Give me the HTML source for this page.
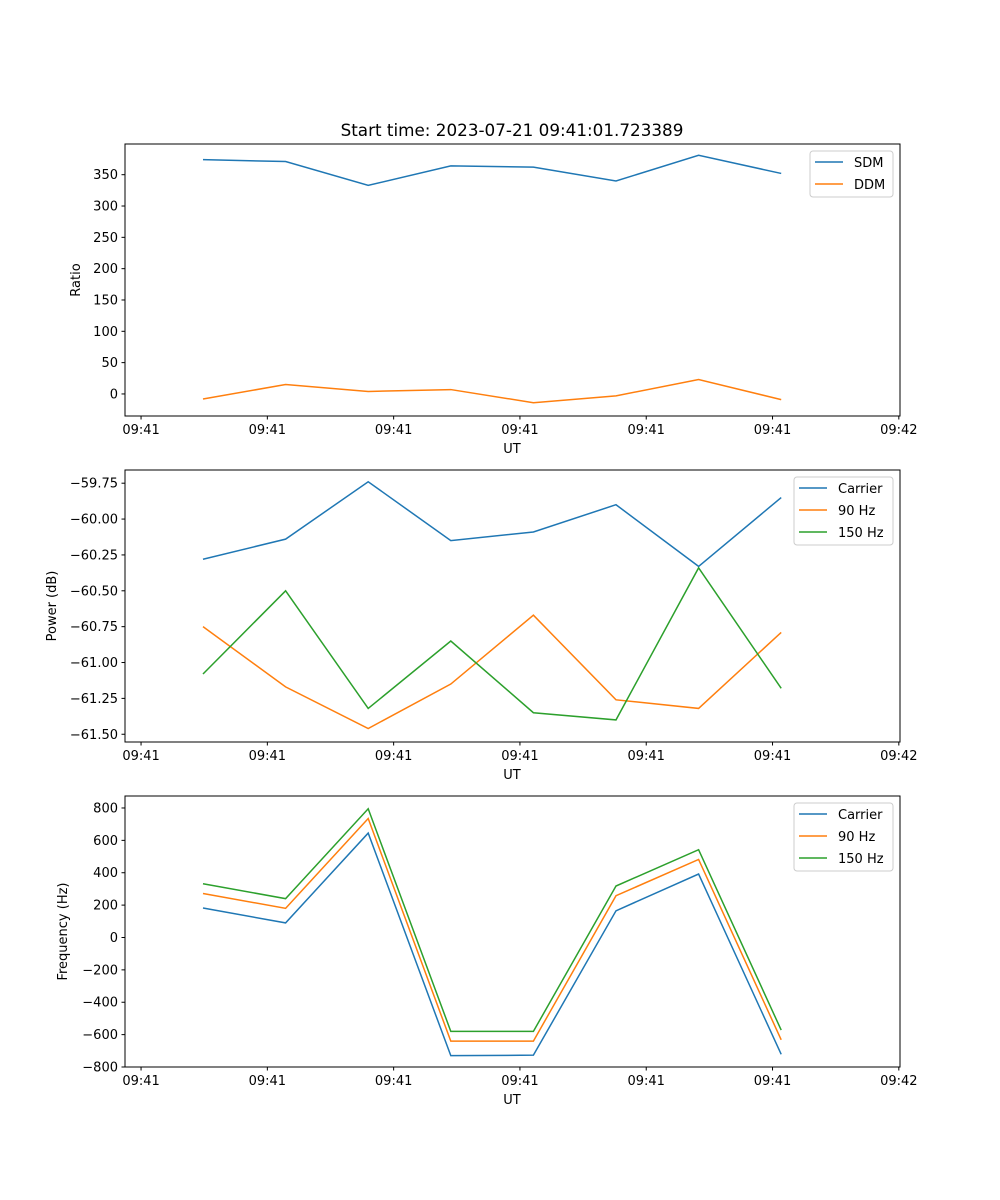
<!DOCTYPE html>
<html><head><meta charset="utf-8"><style>
body{margin:0;background:#fff}
svg{display:block;font-family:"DejaVu Sans","Liberation Sans",sans-serif}
</style></head><body>
<svg id="fig" width="1000" height="1200"></svg>
<script>
const times=[0,1,2,3,4,5,6,7];
const tickTimes=[-0.75,0.779,2.308,3.837,5.366,6.895,8.424];
const tickLabels=["09:41","09:41","09:41","09:41","09:41","09:41","09:42"];
const sdm=[374,371,333,364,362,340,381,352];
const ddm=[-8,15,4,7,-14,-3,23,-9];
const pCarrier=[-60.28,-60.14,-59.74,-60.15,-60.09,-59.90,-60.33,-59.85];
const p90=[-60.75,-61.17,-61.46,-61.15,-60.67,-61.26,-61.32,-60.79];
const p150=[-61.08,-60.50,-61.32,-60.85,-61.35,-61.40,-60.34,-61.18];
const fCarrier=[182,90,645,-730,-727,165,392,-722];
const f90=[272,180,735,-640,-640,258,482,-632];
const f150=[332,240,795,-580,-580,318,542,-572];
const ratioTicks=[0,50,100,150,200,250,300,350];
const powerTicks=[-59.75,-60.0,-60.25,-60.5,-60.75,-61.0,-61.25,-61.5];
const freqTicks=[800,600,400,200,0,-200,-400,-600,-800];
const C={b:"#1f77b4",o:"#ff7f0e",g:"#2ca02c"};
const NS="http://www.w3.org/2000/svg";
const svg=document.getElementById('fig');
function mk(tag,attrs,parent){const e=document.createElementNS(NS,tag);for(const k in attrs)e.setAttribute(k,attrs[k]);(parent||svg).appendChild(e);return e;}
const xs=t=>203+t*82.6;
function panel(name,top,bot,yMin,yMax,yTicks,fmt,ylabel,ylabelX,series,legend){
  const g=mk('g',{});
  
  
  const ys=v=>bot-(v-yMin)/(yMax-yMin)*(bot-top);
  series.forEach(s=>{
    const p=mk('polyline',{points:s.d.map((v,i)=>xs(times[i])+','+ys(v)).join(' '),fill:'none',stroke:s.c,'stroke-width':1.5},g);
    
    
  });
  const fr=mk('rect',{x:125,y:top,width:775,height:bot-top,fill:'none',stroke:'#000','stroke-width':1},g);
  
  
  tickTimes.forEach((t,i)=>{
    const x=xs(t);
    mk('line',{x1:x,x2:x,y1:bot,y2:bot+3.5,stroke:'#000'},g);
    const tx=mk('text',{x:x,y:bot+18,'text-anchor':'middle','font-size':13,fill:'#000'},g);
    tx.textContent=tickLabels[i];
    
    
  });
  yTicks.forEach(v=>{
    const y=ys(v);
    mk('line',{x1:121.5,x2:125,y1:y,y2:y,stroke:'#000'},g);
    const tx=mk('text',{x:118,y:y+4.5,'text-anchor':'end','font-size':13,fill:'#000'},g);
    tx.textContent=fmt(v);
    
    
  });
  const xl=mk('text',{x:512,y:bot+37,'text-anchor':'middle','font-size':13},g);
  xl.textContent='UT';
  
  
  const yl=mk('text',{x:ylabelX,y:(top+bot)/2,'text-anchor':'middle','font-size':13,transform:`rotate(-90 ${ylabelX} ${(top+bot)/2})`},g);
  yl.textContent=ylabel;
  
  
  const lg=mk('g',{},g);
  
  
  mk('rect',{x:legend.x,y:top+7,width:893-legend.x,height:series.length*22+2,rx:3,fill:'#fff',stroke:'#ccc','fill-opacity':0.8},lg);
  series.forEach((s,i)=>{
    const y=top+18+i*22;
    mk('line',{x1:legend.x+5,x2:legend.x+33,y1:y,y2:y,stroke:s.c,'stroke-width':1.5},lg);
    const t=mk('text',{x:legend.x+44,y:y+5,'font-size':13},lg);
    t.textContent=s.label;
    
    
  });
}
const title=mk('text',{x:512,y:136,'text-anchor':'middle','font-size':16.8});
title.textContent='Start time: 2023-07-21 09:41:01.723389';


panel('ratio-panel',144,416,-35.2,399,ratioTicks,v=>String(v),'Ratio',80,
  [{d:sdm,c:C.b,n:'sdm-line',label:'SDM'},{d:ddm,c:C.o,n:'ddm-line',label:'DDM'}],{x:810});
panel('power-panel',470,742,-61.554,-59.658,powerTicks,v=>'\u2212'+Math.abs(v).toFixed(2),'Power (dB)',56,
  [{d:pCarrier,c:C.b,n:'power-carrier-line',label:'Carrier'},{d:p90,c:C.o,n:'power-90hz-line',label:'90 Hz'},{d:p150,c:C.g,n:'power-150hz-line',label:'150 Hz'}],{x:794});
panel('frequency-panel',796,1067,-800,874,freqTicks,v=>v<0?'\u2212'+Math.abs(v):String(v),'Frequency (Hz)',67,
  [{d:fCarrier,c:C.b,n:'freq-carrier-line',label:'Carrier'},{d:f90,c:C.o,n:'freq-90hz-line',label:'90 Hz'},{d:f150,c:C.g,n:'freq-150hz-line',label:'150 Hz'}],{x:794});
</script>
</body></html>
